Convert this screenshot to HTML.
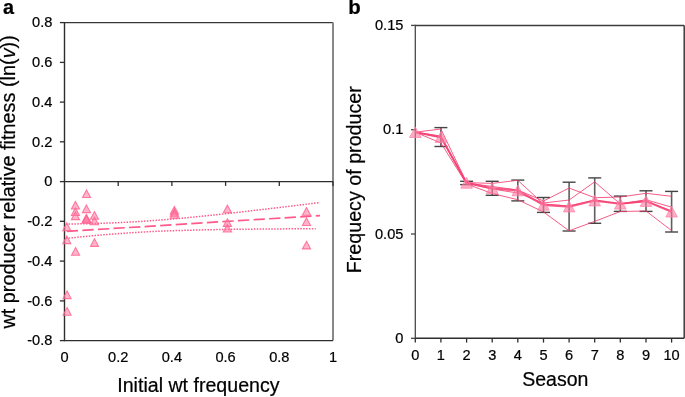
<!DOCTYPE html>
<html><head><meta charset="utf-8"><style>
html,body{margin:0;padding:0;background:#fff;width:685px;height:397px;overflow:hidden;}
svg{display:block;will-change:transform;}
text{font-family:"Liberation Sans", sans-serif;fill:#000;stroke:#000;stroke-width:0.22px;}
</style></head><body>
<svg width="685" height="397" viewBox="0 0 685 397">
<line x1="64.5" y1="22.6" x2="333.0" y2="22.6" stroke="#383838" stroke-width="1.3"/>
<line x1="333.0" y1="22.6" x2="333.0" y2="340.6" stroke="#888" stroke-width="2"/>
<line x1="64.5" y1="340.6" x2="333.0" y2="340.6" stroke="#2e2e2e" stroke-width="1.4"/>
<line x1="64.5" y1="21.900000000000002" x2="64.5" y2="341.3" stroke="#2e2e2e" stroke-width="1.4"/>
<line x1="64.5" y1="181.6" x2="333.0" y2="181.6" stroke="#2e2e2e" stroke-width="1.4"/>
<line x1="118.2" y1="181.6" x2="118.2" y2="185.9" stroke="#2e2e2e" stroke-width="1.3"/>
<line x1="171.9" y1="181.6" x2="171.9" y2="185.9" stroke="#2e2e2e" stroke-width="1.3"/>
<line x1="225.6" y1="181.6" x2="225.6" y2="185.9" stroke="#2e2e2e" stroke-width="1.3"/>
<line x1="279.3" y1="181.6" x2="279.3" y2="185.9" stroke="#2e2e2e" stroke-width="1.3"/>
<line x1="333.0" y1="181.6" x2="333.0" y2="185.9" stroke="#2e2e2e" stroke-width="1.3"/>
<line x1="59.9" y1="22.6" x2="64.5" y2="22.6" stroke="#2e2e2e" stroke-width="1.3"/>
<text x="52.4" y="27.4" text-anchor="end" font-size="14.6">0.8</text>
<line x1="59.9" y1="62.4" x2="64.5" y2="62.4" stroke="#2e2e2e" stroke-width="1.3"/>
<text x="52.4" y="67.2" text-anchor="end" font-size="14.6">0.6</text>
<line x1="59.9" y1="102.1" x2="64.5" y2="102.1" stroke="#2e2e2e" stroke-width="1.3"/>
<text x="52.4" y="106.9" text-anchor="end" font-size="14.6">0.4</text>
<line x1="59.9" y1="141.8" x2="64.5" y2="141.8" stroke="#2e2e2e" stroke-width="1.3"/>
<text x="52.4" y="146.7" text-anchor="end" font-size="14.6">0.2</text>
<line x1="59.9" y1="181.6" x2="64.5" y2="181.6" stroke="#2e2e2e" stroke-width="1.3"/>
<text x="52.4" y="186.4" text-anchor="end" font-size="14.6">0</text>
<line x1="59.9" y1="221.3" x2="64.5" y2="221.3" stroke="#2e2e2e" stroke-width="1.3"/>
<text x="52.4" y="226.2" text-anchor="end" font-size="14.6">-0.2</text>
<line x1="59.9" y1="261.1" x2="64.5" y2="261.1" stroke="#2e2e2e" stroke-width="1.3"/>
<text x="52.4" y="265.9" text-anchor="end" font-size="14.6">-0.4</text>
<line x1="59.9" y1="300.9" x2="64.5" y2="300.9" stroke="#2e2e2e" stroke-width="1.3"/>
<text x="52.4" y="305.7" text-anchor="end" font-size="14.6">-0.6</text>
<line x1="59.9" y1="340.6" x2="64.5" y2="340.6" stroke="#2e2e2e" stroke-width="1.3"/>
<text x="52.4" y="345.4" text-anchor="end" font-size="14.6">-0.8</text>
<text x="64.5" y="362.2" text-anchor="middle" font-size="14.6">0</text>
<text x="118.2" y="362.2" text-anchor="middle" font-size="14.6">0.2</text>
<text x="171.9" y="362.2" text-anchor="middle" font-size="14.6">0.4</text>
<text x="225.6" y="362.2" text-anchor="middle" font-size="14.6">0.6</text>
<text x="279.3" y="362.2" text-anchor="middle" font-size="14.6">0.8</text>
<text x="333.0" y="362.2" text-anchor="middle" font-size="14.6">1</text>
<text x="198.4" y="392.2" text-anchor="middle" font-size="19.6">Initial wt frequency</text>
<text transform="translate(14.7,181.9) rotate(-90)" text-anchor="middle" font-size="19.85">wt producer relative fitness (ln(<tspan font-style="italic">v</tspan>))</text>
<text x="3.0" y="13.6" font-size="19.8" font-weight="bold">a</text>
<polyline points="65.70,224.08 70.01,224.01 74.32,223.94 78.63,223.86 82.94,223.77 87.25,223.67 91.56,223.56 95.87,223.44 100.18,223.31 104.49,223.17 108.80,223.02 113.11,222.85 117.42,222.66 121.73,222.47 126.04,222.26 130.35,222.03 134.66,221.79 138.97,221.53 143.28,221.26 147.59,220.97 151.90,220.67 156.21,220.35 160.52,220.02 164.83,219.67 169.14,219.32 173.45,218.95 177.76,218.56 182.07,218.17 186.38,217.77 190.69,217.36 195.01,216.93 199.32,216.50 203.63,216.07 207.94,215.62 212.25,215.17 216.56,214.71 220.87,214.24 225.18,213.77 229.49,213.30 233.80,212.81 238.11,212.33 242.42,211.84 246.73,211.34 251.04,210.84 255.35,210.34 259.66,209.84 263.97,209.33 268.28,208.82 272.59,208.30 276.90,207.79 281.21,207.27 285.52,206.75 289.83,206.22 294.14,205.70 298.45,205.17 302.76,204.64 307.07,204.11 311.38,203.58 315.69,203.05 320.00,202.52" fill="none" stroke="#ff5a8a" stroke-width="1.5" stroke-dasharray="1.5 1.4"/>
<polyline points="65.70,238.42 70.01,237.98 74.32,237.54 78.63,237.11 82.94,236.69 87.25,236.28 91.56,235.88 95.87,235.49 100.18,235.11 104.49,234.74 108.80,234.38 113.11,234.04 117.42,233.71 121.73,233.39 126.04,233.09 130.35,232.80 134.66,232.53 138.97,232.27 143.28,232.02 147.59,231.79 151.90,231.57 156.21,231.37 160.52,231.18 164.83,231.00 169.14,230.83 173.45,230.68 177.76,230.54 182.07,230.40 186.38,230.28 190.69,230.16 195.01,230.05 199.32,229.95 203.63,229.85 207.94,229.77 212.25,229.68 216.56,229.61 220.87,229.54 225.18,229.47 229.49,229.41 233.80,229.35 238.11,229.29 242.42,229.24 246.73,229.19 251.04,229.15 255.35,229.10 259.66,229.06 263.97,229.02 268.28,228.99 272.59,228.95 276.90,228.92 281.21,228.89 285.52,228.86 289.83,228.84 294.14,228.81 298.45,228.79 302.76,228.76 307.07,228.74 311.38,228.72 315.69,228.70" fill="none" stroke="#ff5a8a" stroke-width="1.5" stroke-dasharray="1.5 1.4"/>
<line x1="65.7" y1="231.45" x2="320" y2="215.6" stroke="#ff5a8a" stroke-width="1.7" stroke-dasharray="11.3 4.29" stroke-dashoffset="14.49"/>
<polygon points="86.5,189.9 90.5,197.5 82.5,197.5" fill="#ff7aa2" fill-opacity="0.55" stroke="#ff6592" stroke-width="1.1" stroke-opacity="0.85"/>
<polygon points="75.4,201.4 79.5,209.0 71.4,209.0" fill="#ff7aa2" fill-opacity="0.55" stroke="#ff6592" stroke-width="1.1" stroke-opacity="0.85"/>
<polygon points="75.4,207.9 79.5,215.5 71.4,215.5" fill="#ff7aa2" fill-opacity="0.55" stroke="#ff6592" stroke-width="1.1" stroke-opacity="0.85"/>
<polygon points="75.4,212.0 79.5,219.6 71.4,219.6" fill="#ff7aa2" fill-opacity="0.55" stroke="#ff6592" stroke-width="1.1" stroke-opacity="0.85"/>
<polygon points="86.4,204.9 90.5,212.6 82.4,212.6" fill="#ff7aa2" fill-opacity="0.55" stroke="#ff6592" stroke-width="1.1" stroke-opacity="0.85"/>
<polygon points="86.4,214.4 90.5,222.0 82.4,222.0" fill="#ff7aa2" fill-opacity="0.55" stroke="#ff6592" stroke-width="1.1" stroke-opacity="0.85"/>
<polygon points="86.4,215.0 90.5,222.6 82.4,222.6" fill="#ff7aa2" fill-opacity="0.55" stroke="#ff6592" stroke-width="1.1" stroke-opacity="0.85"/>
<polygon points="86.4,215.6 90.5,223.2 82.4,223.2" fill="#ff7aa2" fill-opacity="0.55" stroke="#ff6592" stroke-width="1.1" stroke-opacity="0.85"/>
<polygon points="94.4,211.6 98.5,219.2 90.4,219.2" fill="#ff7aa2" fill-opacity="0.55" stroke="#ff6592" stroke-width="1.1" stroke-opacity="0.85"/>
<polygon points="94.4,217.2 98.5,224.8 90.4,224.8" fill="#ff7aa2" fill-opacity="0.55" stroke="#ff6592" stroke-width="1.1" stroke-opacity="0.85"/>
<polygon points="66.8,223.0 70.8,230.6 62.8,230.6" fill="#ff7aa2" fill-opacity="0.55" stroke="#ff6592" stroke-width="1.1" stroke-opacity="0.85"/>
<polygon points="66.8,236.0 70.8,243.6 62.8,243.6" fill="#ff7aa2" fill-opacity="0.55" stroke="#ff6592" stroke-width="1.1" stroke-opacity="0.85"/>
<polygon points="75.6,247.6 79.6,255.2 71.5,255.2" fill="#ff7aa2" fill-opacity="0.55" stroke="#ff6592" stroke-width="1.1" stroke-opacity="0.85"/>
<polygon points="94.5,238.8 98.5,246.4 90.5,246.4" fill="#ff7aa2" fill-opacity="0.55" stroke="#ff6592" stroke-width="1.1" stroke-opacity="0.85"/>
<polygon points="67.1,291.0 71.1,298.6 63.0,298.6" fill="#ff7aa2" fill-opacity="0.55" stroke="#ff6592" stroke-width="1.1" stroke-opacity="0.85"/>
<polygon points="67.1,307.6 71.1,315.2 63.0,315.2" fill="#ff7aa2" fill-opacity="0.55" stroke="#ff6592" stroke-width="1.1" stroke-opacity="0.85"/>
<polygon points="174.4,206.4 178.5,214.0 170.3,214.0" fill="#ff7aa2" fill-opacity="0.55" stroke="#ff6592" stroke-width="1.1" stroke-opacity="0.85"/>
<polygon points="174.4,208.6 178.5,216.2 170.3,216.2" fill="#ff7aa2" fill-opacity="0.55" stroke="#ff6592" stroke-width="1.1" stroke-opacity="0.85"/>
<polygon points="174.4,210.6 178.5,218.2 170.3,218.2" fill="#ff7aa2" fill-opacity="0.55" stroke="#ff6592" stroke-width="1.1" stroke-opacity="0.85"/>
<polygon points="227.4,205.2 231.5,212.8 223.3,212.8" fill="#ff7aa2" fill-opacity="0.55" stroke="#ff6592" stroke-width="1.1" stroke-opacity="0.85"/>
<polygon points="227.4,218.8 231.5,226.4 223.3,226.4" fill="#ff7aa2" fill-opacity="0.55" stroke="#ff6592" stroke-width="1.1" stroke-opacity="0.85"/>
<polygon points="227.4,224.4 231.5,232.0 223.3,232.0" fill="#ff7aa2" fill-opacity="0.55" stroke="#ff6592" stroke-width="1.1" stroke-opacity="0.85"/>
<polygon points="306.5,207.6 310.6,215.2 302.4,215.2" fill="#ff7aa2" fill-opacity="0.55" stroke="#ff6592" stroke-width="1.1" stroke-opacity="0.85"/>
<polygon points="306.5,217.9 310.6,225.5 302.4,225.5" fill="#ff7aa2" fill-opacity="0.55" stroke="#ff6592" stroke-width="1.1" stroke-opacity="0.85"/>
<polygon points="306.5,241.3 310.6,248.9 302.4,248.9" fill="#ff7aa2" fill-opacity="0.55" stroke="#ff6592" stroke-width="1.1" stroke-opacity="0.85"/>
<line x1="415.3" y1="25.5" x2="684.2" y2="25.5" stroke="#3c3c3c" stroke-width="1.3"/>
<line x1="684.2" y1="25.4" x2="684.2" y2="338.3" stroke="#2e2e2e" stroke-width="1.4"/>
<line x1="415.3" y1="338.3" x2="684.2" y2="338.3" stroke="#2e2e2e" stroke-width="1.4"/>
<line x1="415.3" y1="24.7" x2="415.3" y2="339.0" stroke="#484848" stroke-width="1.3"/>
<line x1="411.0" y1="25.4" x2="415.3" y2="25.4" stroke="#484848" stroke-width="1.3"/>
<text x="403.4" y="30.0" text-anchor="end" font-size="14.6">0.15</text>
<line x1="411.0" y1="129.7" x2="415.3" y2="129.7" stroke="#484848" stroke-width="1.3"/>
<text x="403.4" y="134.3" text-anchor="end" font-size="14.6">0.1</text>
<line x1="411.0" y1="234.0" x2="415.3" y2="234.0" stroke="#484848" stroke-width="1.3"/>
<text x="403.4" y="238.6" text-anchor="end" font-size="14.6">0.05</text>
<line x1="411.0" y1="338.3" x2="415.3" y2="338.3" stroke="#484848" stroke-width="1.3"/>
<text x="403.4" y="342.9" text-anchor="end" font-size="14.6">0</text>
<line x1="415.3" y1="338.3" x2="415.3" y2="342.6" stroke="#2e2e2e" stroke-width="1.3"/>
<text x="415.3" y="360.2" text-anchor="middle" font-size="14.6">0</text>
<line x1="440.9" y1="338.3" x2="440.9" y2="342.6" stroke="#2e2e2e" stroke-width="1.3"/>
<text x="440.9" y="360.2" text-anchor="middle" font-size="14.6">1</text>
<line x1="466.6" y1="338.3" x2="466.6" y2="342.6" stroke="#2e2e2e" stroke-width="1.3"/>
<text x="466.6" y="360.2" text-anchor="middle" font-size="14.6">2</text>
<line x1="492.2" y1="338.3" x2="492.2" y2="342.6" stroke="#2e2e2e" stroke-width="1.3"/>
<text x="492.2" y="360.2" text-anchor="middle" font-size="14.6">3</text>
<line x1="517.8" y1="338.3" x2="517.8" y2="342.6" stroke="#2e2e2e" stroke-width="1.3"/>
<text x="517.8" y="360.2" text-anchor="middle" font-size="14.6">4</text>
<line x1="543.5" y1="338.3" x2="543.5" y2="342.6" stroke="#2e2e2e" stroke-width="1.3"/>
<text x="543.5" y="360.2" text-anchor="middle" font-size="14.6">5</text>
<line x1="569.1" y1="338.3" x2="569.1" y2="342.6" stroke="#2e2e2e" stroke-width="1.3"/>
<text x="569.1" y="360.2" text-anchor="middle" font-size="14.6">6</text>
<line x1="594.7" y1="338.3" x2="594.7" y2="342.6" stroke="#2e2e2e" stroke-width="1.3"/>
<text x="594.7" y="360.2" text-anchor="middle" font-size="14.6">7</text>
<line x1="620.3" y1="338.3" x2="620.3" y2="342.6" stroke="#2e2e2e" stroke-width="1.3"/>
<text x="620.3" y="360.2" text-anchor="middle" font-size="14.6">8</text>
<line x1="646.0" y1="338.3" x2="646.0" y2="342.6" stroke="#2e2e2e" stroke-width="1.3"/>
<text x="646.0" y="360.2" text-anchor="middle" font-size="14.6">9</text>
<line x1="671.6" y1="338.3" x2="671.6" y2="342.6" stroke="#2e2e2e" stroke-width="1.3"/>
<text x="671.6" y="360.2" text-anchor="middle" font-size="14.6">10</text>
<text x="555.3" y="386" text-anchor="middle" font-size="19.5">Season</text>
<text transform="translate(360.8,179.7) rotate(-90)" text-anchor="middle" font-size="19.7">Frequecy of producer</text>
<text x="348.2" y="14.4" font-size="20.4" font-weight="bold">b</text>
<line x1="440.9" y1="127.6" x2="440.9" y2="146.5" stroke="#5e5e5e" stroke-width="1.6"/>
<line x1="434.4" y1="127.6" x2="447.4" y2="127.6" stroke="#454545" stroke-width="1.4"/>
<line x1="434.4" y1="146.5" x2="447.4" y2="146.5" stroke="#454545" stroke-width="1.4"/>
<line x1="466.6" y1="181.3" x2="466.6" y2="184.6" stroke="#5e5e5e" stroke-width="1.6"/>
<line x1="460.1" y1="181.3" x2="473.1" y2="181.3" stroke="#454545" stroke-width="1.4"/>
<line x1="460.1" y1="184.6" x2="473.1" y2="184.6" stroke="#454545" stroke-width="1.4"/>
<line x1="492.2" y1="181.3" x2="492.2" y2="195.3" stroke="#5e5e5e" stroke-width="1.6"/>
<line x1="485.7" y1="181.3" x2="498.7" y2="181.3" stroke="#454545" stroke-width="1.4"/>
<line x1="485.7" y1="195.3" x2="498.7" y2="195.3" stroke="#454545" stroke-width="1.4"/>
<line x1="517.8" y1="180.1" x2="517.8" y2="200.9" stroke="#5e5e5e" stroke-width="1.6"/>
<line x1="511.3" y1="180.1" x2="524.3" y2="180.1" stroke="#454545" stroke-width="1.4"/>
<line x1="511.3" y1="200.9" x2="524.3" y2="200.9" stroke="#454545" stroke-width="1.4"/>
<line x1="543.5" y1="197.5" x2="543.5" y2="212.4" stroke="#5e5e5e" stroke-width="1.6"/>
<line x1="537.0" y1="197.5" x2="550.0" y2="197.5" stroke="#454545" stroke-width="1.4"/>
<line x1="537.0" y1="212.4" x2="550.0" y2="212.4" stroke="#454545" stroke-width="1.4"/>
<line x1="569.1" y1="182.2" x2="569.1" y2="231.0" stroke="#5e5e5e" stroke-width="1.6"/>
<line x1="562.6" y1="182.2" x2="575.6" y2="182.2" stroke="#454545" stroke-width="1.4"/>
<line x1="562.6" y1="231.0" x2="575.6" y2="231.0" stroke="#454545" stroke-width="1.4"/>
<line x1="594.7" y1="177.9" x2="594.7" y2="223.3" stroke="#5e5e5e" stroke-width="1.6"/>
<line x1="588.2" y1="177.9" x2="601.2" y2="177.9" stroke="#454545" stroke-width="1.4"/>
<line x1="588.2" y1="223.3" x2="601.2" y2="223.3" stroke="#454545" stroke-width="1.4"/>
<line x1="620.3" y1="196.1" x2="620.3" y2="211.4" stroke="#5e5e5e" stroke-width="1.6"/>
<line x1="613.8" y1="196.1" x2="626.8" y2="196.1" stroke="#454545" stroke-width="1.4"/>
<line x1="613.8" y1="211.4" x2="626.8" y2="211.4" stroke="#454545" stroke-width="1.4"/>
<line x1="646.0" y1="190.8" x2="646.0" y2="211.4" stroke="#5e5e5e" stroke-width="1.6"/>
<line x1="639.5" y1="190.8" x2="652.5" y2="190.8" stroke="#454545" stroke-width="1.4"/>
<line x1="639.5" y1="211.4" x2="652.5" y2="211.4" stroke="#454545" stroke-width="1.4"/>
<line x1="671.6" y1="191.4" x2="671.6" y2="232.0" stroke="#5e5e5e" stroke-width="1.6"/>
<line x1="665.1" y1="191.4" x2="678.1" y2="191.4" stroke="#454545" stroke-width="1.4"/>
<line x1="665.1" y1="232.0" x2="678.1" y2="232.0" stroke="#454545" stroke-width="1.4"/>
<polyline points="415.3,132.2 440.9,129.0 466.6,182.6 492.2,183.4 517.8,180.3 543.5,204.0 569.1,206.0 594.7,200.0 620.3,204.0 646.0,201.2 671.6,211.0" fill="none" stroke="#f53f72" stroke-width="1" stroke-opacity="0.85"/>
<polyline points="415.3,132.2 440.9,136.0 466.6,183.0 492.2,186.5 517.8,190.0 543.5,201.0 569.1,188.0 594.7,197.7 620.3,197.0 646.0,193.3 671.6,196.3" fill="none" stroke="#f53f72" stroke-width="1" stroke-opacity="0.85"/>
<polyline points="415.3,132.2 440.9,137.5 466.6,183.4 492.2,189.0 517.8,193.0 543.5,203.0 569.1,200.0 594.7,181.8 620.3,204.0 646.0,199.7 671.6,207.2" fill="none" stroke="#f53f72" stroke-width="1" stroke-opacity="0.85"/>
<polyline points="415.3,132.2 440.9,143.0 466.6,184.0 492.2,193.5 517.8,199.7 543.5,212.0 569.1,230.8 594.7,221.4 620.3,211.5 646.0,211.0 671.6,230.6" fill="none" stroke="#f53f72" stroke-width="1" stroke-opacity="0.85"/>
<polyline points="415.3,132.2 440.9,137.1 466.6,182.9 492.2,188.3 517.8,190.5 543.5,204.9 569.1,206.6 594.7,200.6 620.3,203.8 646.0,201.1 671.6,211.7" fill="none" stroke="#f53f72" stroke-width="2.1" stroke-opacity="0.85"/>
<polygon points="415.3,126.9 421.1,137.5 409.5,137.5" fill="#ff7aa2" fill-opacity="0.62" stroke="#ff7fa6" stroke-width="1" stroke-opacity="0.7"/>
<polygon points="440.9,131.8 446.7,142.4 435.1,142.4" fill="#ff7aa2" fill-opacity="0.62" stroke="#ff7fa6" stroke-width="1" stroke-opacity="0.7"/>
<polygon points="466.6,177.6 472.4,188.2 460.8,188.2" fill="#ff7aa2" fill-opacity="0.62" stroke="#ff7fa6" stroke-width="1" stroke-opacity="0.7"/>
<polygon points="492.2,183.0 498.0,193.6 486.4,193.6" fill="#ff7aa2" fill-opacity="0.62" stroke="#ff7fa6" stroke-width="1" stroke-opacity="0.7"/>
<polygon points="517.8,185.2 523.6,195.8 512.0,195.8" fill="#ff7aa2" fill-opacity="0.62" stroke="#ff7fa6" stroke-width="1" stroke-opacity="0.7"/>
<polygon points="543.5,199.6 549.2,210.2 537.7,210.2" fill="#ff7aa2" fill-opacity="0.62" stroke="#ff7fa6" stroke-width="1" stroke-opacity="0.7"/>
<polygon points="569.1,201.3 574.9,211.9 563.3,211.9" fill="#ff7aa2" fill-opacity="0.62" stroke="#ff7fa6" stroke-width="1" stroke-opacity="0.7"/>
<polygon points="594.7,195.3 600.5,205.9 588.9,205.9" fill="#ff7aa2" fill-opacity="0.62" stroke="#ff7fa6" stroke-width="1" stroke-opacity="0.7"/>
<polygon points="620.3,198.4 626.1,209.1 614.5,209.1" fill="#ff7aa2" fill-opacity="0.62" stroke="#ff7fa6" stroke-width="1" stroke-opacity="0.7"/>
<polygon points="646.0,195.8 651.8,206.4 640.2,206.4" fill="#ff7aa2" fill-opacity="0.62" stroke="#ff7fa6" stroke-width="1" stroke-opacity="0.7"/>
<polygon points="671.6,206.4 677.4,217.0 665.8,217.0" fill="#ff7aa2" fill-opacity="0.62" stroke="#ff7fa6" stroke-width="1" stroke-opacity="0.7"/>
</svg>
</body></html>
